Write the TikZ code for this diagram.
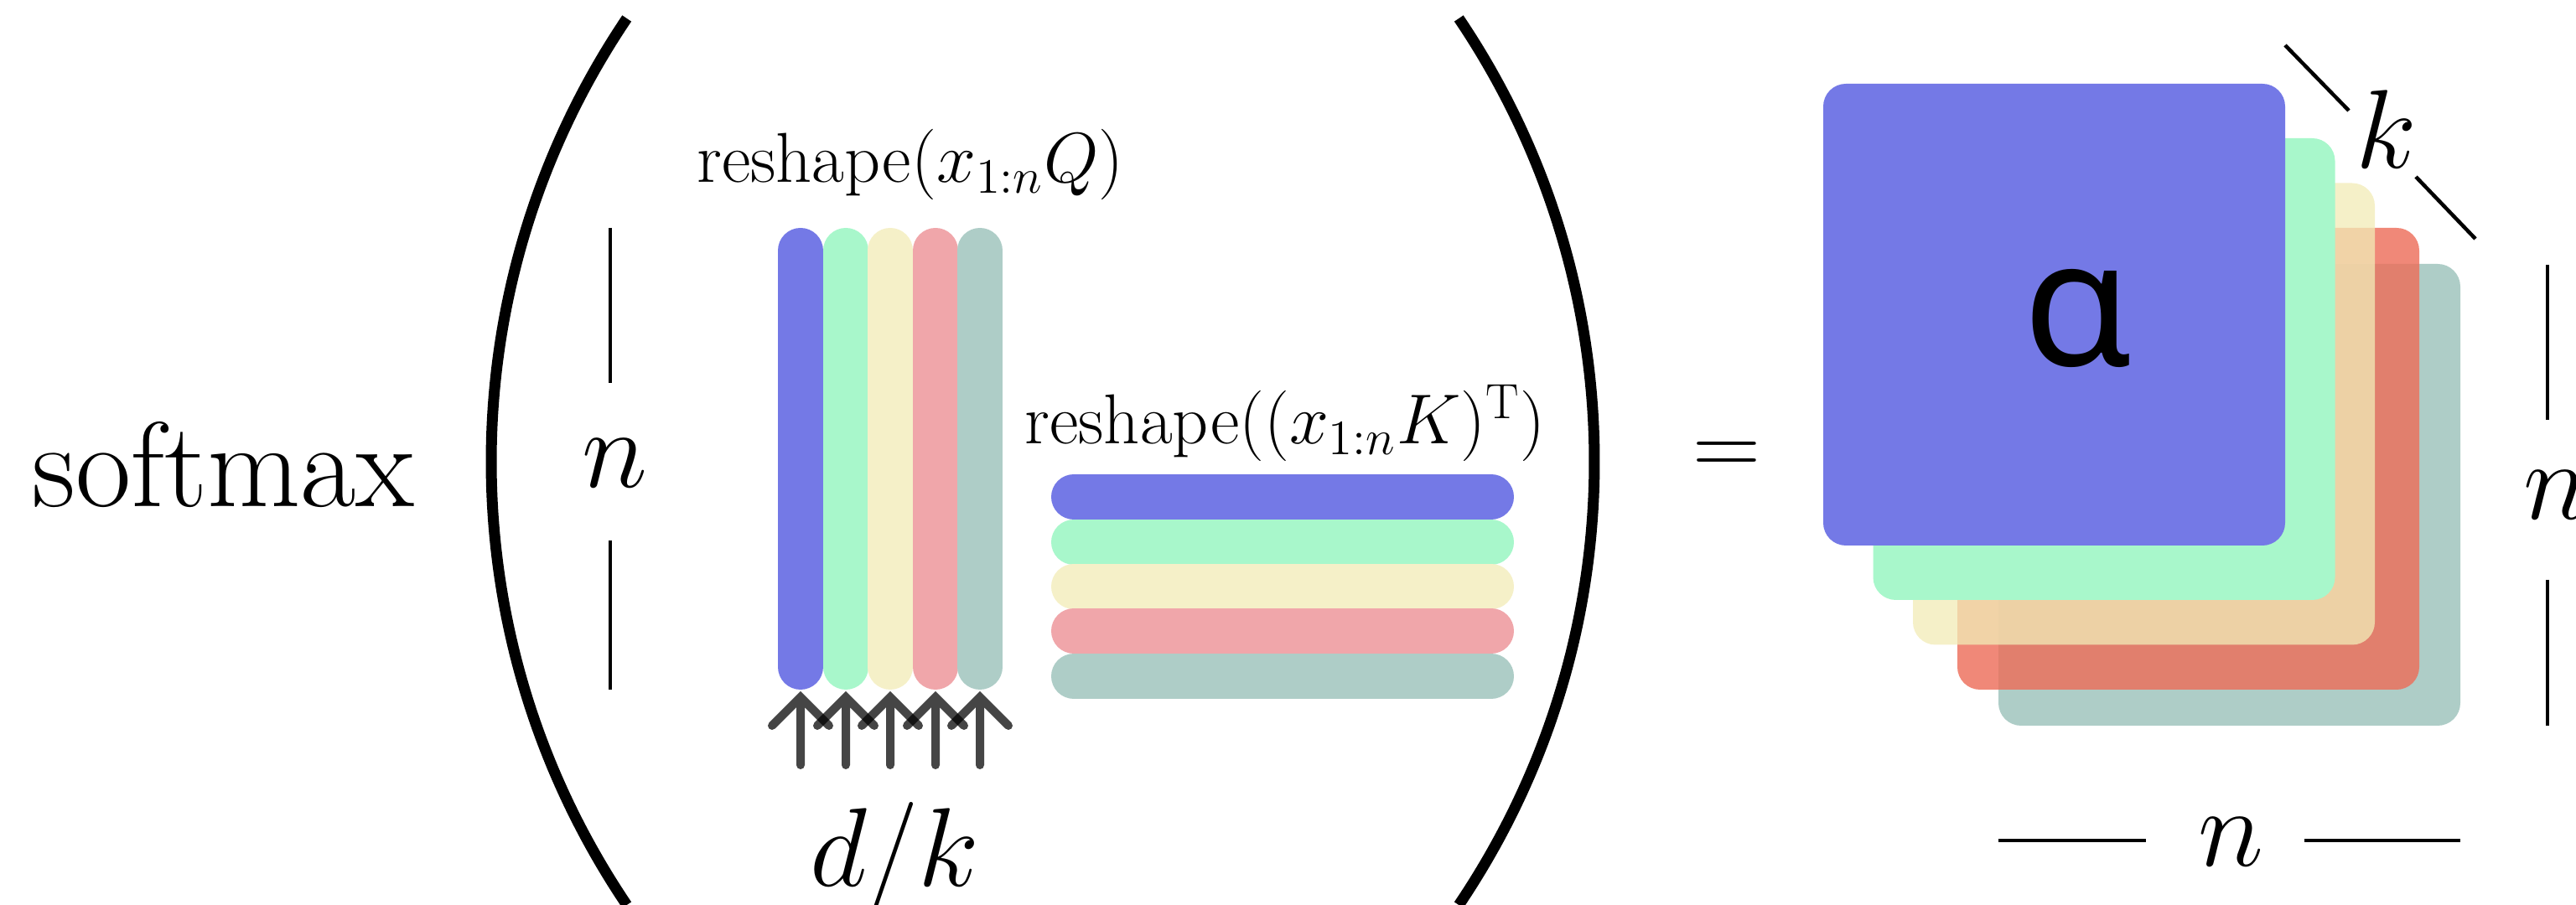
\RequirePackage{fix-cm}
\documentclass[tikz,border=0pt]{standalone}
\usepackage{fontspec}
\newfontfamily\alphafont{Noto Sans}
\definecolor{cblue}{HTML}{7479E6}
\definecolor{cgreen}{HTML}{A8F7CB}
\definecolor{cyellow}{HTML}{F5F0C8}
\definecolor{cpink}{HTML}{F0A6AA}
\definecolor{cteal}{HTML}{AECDC7}
\definecolor{cred}{HTML}{ED6E5A}
\definecolor{cyeltwo}{HTML}{F2EBB7}
\tikzset{
  lbl/.style={inner sep=0pt, font=\fontsize{24}{28}\selectfont},
  big/.style={inner sep=0pt, font=\fontsize{38}{44}\selectfont},
  dimline/.style={line width=0.045cm},
  paren/.style={line width=0.13cm},
  bar/.style={line width=0.54cm, line cap=round},
  arr/.style={line width=0.1cm, draw=black, opacity=0.73, line cap=round, line join=miter},
  card/.style={rectangle, rounded corners=0.27cm, minimum width=5.51cm, minimum height=5.51cm, inner sep=0pt, draw=none},
}
\begin{document}
\begin{tikzpicture}[x=1cm,y=1cm]
\useasboundingbox (0,0) rectangle (30.73,10.80);
\clip (0,0) rectangle (30.73,10.80);

% softmax
\node[inner sep=0pt, anchor=base west, font=\fontsize{41}{49}\selectfont] (softmax) at (0.38,4.75) {softmax};

% parentheses
\draw[paren] (15.32,5.29) ++(146:9.46) arc[start angle=146, end angle=214, radius=9.46];
\draw[paren] (9.56,5.29) ++(34:9.46) arc[start angle=34, end angle=-34, radius=9.46];

% left n dimension
\node[big] (nL) at (7.34,5.27) {$n$};
\coordinate (nLa) at (7.28,8.08);
\coordinate (nLb) at (7.28,6.23);
\coordinate (nLc) at (7.28,4.35);
\coordinate (nLd) at (7.28,2.57);
\draw[dimline] (nLa) -- (nLb);
\draw[dimline] (nLc) -- (nLd);

% Q label and vertical bars
\node[lbl, anchor=base] (lq) at (10.86,8.62) {reshape($x_{1:n}Q$)};
\foreach \x/\c in {9.55/cblue, 10.09/cgreen, 10.62/cyellow, 11.16/cpink, 11.69/cteal}
  \draw[bar, draw=\c] (\x,7.81) -- (\x,2.84);
\foreach \x in {9.55,10.09,10.62,11.16,11.69}
  \draw[arr] (\x,1.67) -- (\x,2.48) (\x-0.34,2.14) -- (\x,2.48) -- (\x+0.34,2.14);
\node[big, anchor=base] (dk) at (10.67,0.22) {$d/k$};

% K label and horizontal bars
\node[lbl, anchor=base] (lk) at (15.33,5.50) {reshape(($x_{1:n}K$)$^{\mathrm{T}}$)};
\foreach \y/\c in {4.87/cblue, 4.33/cgreen, 3.80/cyellow, 3.27/cpink, 2.73/cteal}
  \draw[bar, draw=\c] (12.81,\y) -- (17.79,\y);

% equals
\node[inner sep=0pt, font=\fontsize{32}{38}\selectfont] (eq) at (20.60,5.32) {$=$};

% stack of attention maps
\node[card, fill=cteal] (teal) at (26.595,4.895) {};
\node[card, fill=cred, fill opacity=0.82] (red) at (26.105,5.325) {};
\node[card, fill=cyeltwo, fill opacity=0.76] (yel) at (25.575,5.86) {};
\node[card, fill=cgreen] (grn) at (25.10,6.395) {};
\node[card, fill=cblue] (blu) at (24.505,7.045) {};
\node[inner sep=0pt, font=\alphafont\fontsize{60}{70}\selectfont] (alpha) at (24.79,7.00) {α};

% k dimension
\node[big] (k) at (28.47,9.26) {$k$};
\coordinate (ka) at (27.26,10.26);
\coordinate (kb) at (28.02,9.48);
\coordinate (kc) at (28.82,8.69);
\coordinate (kd) at (29.53,7.95);
\draw[dimline] (ka) -- (kb);
\draw[dimline] (kc) -- (kd);

% right n dimension
\node[big] (nR) at (30.50,4.89) {$n$};
\coordinate (nRa) at (30.39,7.64);
\coordinate (nRb) at (30.39,5.79);
\coordinate (nRc) at (30.39,3.88);
\coordinate (nRd) at (30.39,2.14);
\draw[dimline] (nRa) -- (nRb);
\draw[dimline] (nRc) -- (nRd);

% bottom n dimension
\node[big] (nB) at (26.62,0.75) {$n$};
\coordinate (nBa) at (23.84,0.77);
\coordinate (nBb) at (25.60,0.77);
\coordinate (nBc) at (27.49,0.77);
\coordinate (nBd) at (29.35,0.77);
\draw[dimline] (nBa) -- (nBb);
\draw[dimline] (nBc) -- (nBd);
\end{tikzpicture}
\end{document}
